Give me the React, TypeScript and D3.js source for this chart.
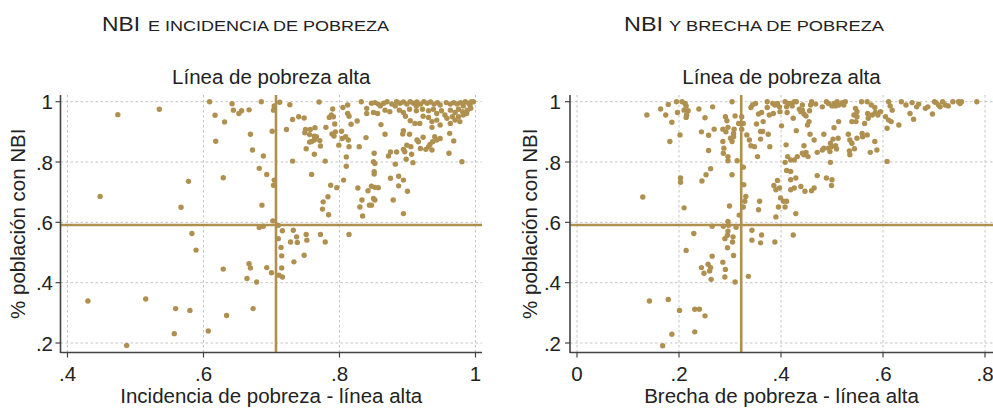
import React from "react";
import * as d3 from "d3";

// ---------- DATA ----------
// Panel A: x = incidencia de pobreza (línea alta), y = % población con NBI
const incidenciaPoints: [number, number][] = [
  [0.474,0.957],[0.535,0.975],[0.448,0.686],[0.578,0.736],[0.567,0.65],[0.583,0.563],[0.589,0.508],
  [0.43,0.339],[0.515,0.346],[0.559,0.314],[0.58,0.308],[0.557,0.231],[0.487,0.192],[0.607,0.24],
  [0.609,1.0],[0.642,0.993],[0.644,0.972],[0.652,0.961],[0.656,0.97],[0.667,0.973],[0.685,1.0],
  [0.703,0.972],[0.704,0.986],[0.617,0.955],[0.631,0.933],[0.618,0.869],[0.669,0.892],[0.672,0.84],
  [0.701,0.902],[0.688,0.82],[0.682,0.779],[0.693,0.759],[0.704,0.74],[0.703,0.723],[0.629,0.748],
  [0.686,0.657],[0.702,0.605],[0.682,0.583],[0.688,0.587],[0.71,0.546],[0.629,0.445],[0.667,0.463],
  [0.669,0.449],[0.693,0.45],[0.7,0.433],[0.664,0.414],[0.678,0.402],[0.673,0.314],[0.634,0.291],
  [0.711,0.425],
  [0.71,0.59],[0.716,0.572],[0.714,0.517],[0.715,0.489],[0.715,0.449],[0.716,0.419],[0.732,0.574],
  [0.737,0.552],[0.728,0.535],[0.738,0.533],[0.751,0.56],[0.752,0.541],[0.772,0.56],[0.779,0.535],
  [0.748,0.491],[0.733,0.469],[0.814,0.56],
  [0.712,0.998],[0.727,0.99],[0.77,0.999],[0.79,0.976],[0.788,0.956],[0.785,0.948],[0.793,0.926],
  [0.805,0.981],[0.812,0.989],[0.812,0.961],[0.814,0.952],[0.817,0.925],[0.826,0.936],[0.832,1.0],
  [0.84,0.978],[0.84,0.961],[0.731,0.941],[0.74,0.95],[0.748,0.946],[0.722,0.908],[0.75,0.908],
  [0.749,0.897],[0.757,0.908],[0.764,0.914],[0.756,0.891],[0.763,0.886],[0.766,0.884],[0.759,0.868],
  [0.756,0.866],[0.763,0.873],[0.771,0.871],[0.772,0.853],[0.751,0.844],[0.763,0.826],[0.78,0.915],
  [0.789,0.893],[0.794,0.9],[0.792,0.886],[0.803,0.902],[0.804,0.878],[0.809,0.884],[0.813,0.873],
  [0.814,0.851],[0.799,0.856],[0.829,0.851],[0.839,0.881],[0.731,0.803],[0.779,0.803],[0.81,0.817],
  [0.81,0.786],[0.759,0.759],[0.806,0.74],[0.787,0.723],[0.796,0.715],[0.783,0.685],[0.776,0.668],
  [0.775,0.644],[0.784,0.625],[0.827,0.714],[0.842,0.705],[0.833,0.674],[0.83,0.651],[0.844,0.657],
  [0.834,0.621],[0.791,0.95],
  [0.847,0.995],[0.852,0.997],[0.857,0.992],[0.865,0.995],[0.87,1.0],[0.877,0.992],[0.884,1.0],
  [0.889,0.995],[0.894,0.999],[0.899,0.992],[0.904,1.0],[0.909,0.995],[0.914,0.999],[0.919,0.992],
  [0.924,1.0],[0.929,0.995],[0.934,0.999],[0.939,0.992],[0.944,0.997],[0.957,0.997],[0.963,0.992],
  [0.968,0.997],[0.973,0.992],[0.978,0.997],[0.985,1.0],[0.99,0.995],[0.994,1.0],[0.997,1.0],
  [0.86,0.986],[0.882,0.986],[0.913,0.986],[0.948,0.989],[0.982,0.986],[0.992,0.989],
  [0.85,0.964],[0.856,0.961],[0.867,0.972],[0.874,0.967],[0.888,0.972],[0.894,0.964],[0.903,0.975],
  [0.913,0.97],[0.922,0.975],[0.931,0.97],[0.938,0.975],[0.943,0.961],[0.95,0.97],[0.955,0.956],
  [0.963,0.972],[0.97,0.964],[0.975,0.975],[0.981,0.967],[0.988,0.972],[0.993,0.978],
  [0.897,0.952],[0.904,0.937],[0.911,0.928],[0.918,0.928],[0.923,0.952],[0.931,0.948],[0.936,0.934],
  [0.943,0.939],[0.948,0.923],[0.958,0.945],[0.963,0.928],[0.97,0.939],[0.975,0.95],[0.982,0.956],
  [0.987,0.961],[0.977,0.934],[0.966,0.95],
  [0.861,0.924],[0.867,0.892],[0.894,0.904],[0.893,0.893],[0.903,0.892],[0.914,0.873],[0.923,0.882],
  [0.916,0.867],[0.936,0.915],[0.94,0.884],[0.948,0.878],[0.937,0.867],[0.943,0.873],[0.933,0.858],
  [0.931,0.851],[0.927,0.842],[0.936,0.84],[0.919,0.845],[0.962,0.895],[0.968,0.87],[0.961,0.829],
  [0.905,0.851],[0.899,0.856],[0.894,0.842],[0.896,0.834],[0.884,0.833],[0.875,0.833],[0.872,0.82],
  [0.906,0.826],[0.898,0.809],[0.908,0.798],[0.882,0.793],[0.98,0.801],[0.851,0.829],[0.85,0.801],
  [0.852,0.795],[0.851,0.768],[0.851,0.76],[0.847,0.72],[0.852,0.716],[0.857,0.715],[0.85,0.679],
  [0.852,0.674],[0.847,0.657],[0.875,0.746],[0.887,0.753],[0.894,0.74],[0.887,0.721],[0.9,0.703],
  [0.879,0.674],[0.894,0.629],
];

// Panel B: x = brecha de pobreza (línea alta), y = % población con NBI
const brechaPoints: [number, number][] = [
  [0.137,0.956],[0.164,0.976],[0.179,0.991],[0.174,0.956],[0.195,1.0],[0.206,1.0],[0.212,0.994],
  [0.214,0.986],[0.21,0.972],[0.218,0.97],[0.215,0.956],[0.214,0.948],[0.197,0.964],[0.186,0.932],
  [0.202,0.89],[0.182,0.868],[0.239,0.976],[0.266,0.983],[0.304,1.0],[0.251,0.947],[0.244,0.9],
  [0.258,0.889],[0.269,0.909],[0.258,0.838],[0.286,0.909],[0.291,0.95],[0.294,0.937],[0.296,0.915],
  [0.292,0.9],[0.286,0.868],[0.288,0.846],[0.287,0.829],[0.296,0.818],[0.296,0.804],[0.301,0.879],
  [0.304,0.868],[0.307,0.895],[0.308,0.909],[0.307,0.884],[0.31,0.953],[0.317,0.928],[0.262,0.778],
  [0.253,0.758],[0.245,0.737],[0.203,0.747],[0.203,0.733],[0.304,0.758],[0.314,0.804],[0.129,0.684],
  [0.21,0.648],[0.299,0.654],[0.318,0.624],[0.296,0.603],[0.265,0.587],[0.287,0.587],[0.312,0.584],
  [0.229,0.563],[0.296,0.571],[0.295,0.557],[0.306,0.552],[0.29,0.546],[0.305,0.535],[0.295,0.516],
  [0.214,0.507],[0.265,0.488],[0.307,0.49],[0.286,0.468],[0.257,0.461],[0.244,0.45],[0.262,0.45],
  [0.249,0.431],[0.26,0.439],[0.291,0.444],[0.29,0.419],[0.263,0.411],[0.31,0.402],[0.142,0.339],
  [0.179,0.344],[0.201,0.308],[0.231,0.312],[0.24,0.312],[0.251,0.29],[0.231,0.237],[0.186,0.229],
  [0.168,0.191],[0.297,0.59],
  [0.323,0.95],[0.326,0.928],[0.333,0.89],[0.338,0.873],[0.341,0.854],[0.348,0.851],[0.341,0.981],
  [0.344,0.989],[0.35,0.994],[0.356,0.959],[0.362,0.964],[0.365,0.934],[0.352,0.926],[0.36,0.901],
  [0.364,0.901],[0.36,0.876],[0.375,0.892],[0.378,0.851],[0.354,0.818],[0.373,1.0],[0.373,0.981],
  [0.384,0.994],[0.388,0.989],[0.393,0.994],[0.377,0.956],[0.385,0.961],[0.397,0.983],[0.398,0.967],
  [0.408,1.0],[0.414,0.994],[0.411,0.983],[0.412,0.964],[0.401,0.92],[0.41,0.857],[0.413,0.818],
  [0.408,0.799],[0.326,0.783],[0.327,0.725],[0.331,0.686],[0.329,0.67],[0.326,0.651],[0.358,0.67],
  [0.356,0.642],[0.386,0.722],[0.393,0.739],[0.397,0.714],[0.39,0.708],[0.399,0.681],[0.405,0.67],
  [0.411,0.67],[0.395,0.651],[0.408,0.651],[0.39,0.618],[0.411,0.772],[0.343,0.574],[0.343,0.541],
  [0.362,0.558],[0.36,0.532],[0.388,0.535],[0.424,0.558],[0.336,0.421],[0.323,0.909],
  [0.419,0.994],[0.426,1.0],[0.43,1.0],[0.422,0.986],[0.442,0.989],[0.46,1.0],[0.458,0.989],
  [0.468,0.992],[0.481,0.983],[0.489,1.0],[0.493,0.994],[0.504,0.994],[0.51,1.0],[0.513,0.989],
  [0.52,0.997],[0.526,1.0],[0.523,0.989],[0.507,0.986],[0.5,0.986],[0.558,1.0],[0.569,1.0],
  [0.577,0.989],[0.584,0.981],[0.546,0.978],[0.549,0.967],[0.543,0.956],[0.442,0.972],[0.439,0.967],
  [0.445,0.959],[0.449,0.953],[0.456,0.97],[0.436,0.975],[0.424,0.945],[0.455,0.934],[0.452,0.923],
  [0.43,0.904],[0.457,0.892],[0.465,0.873],[0.445,0.854],[0.449,0.832],[0.445,0.824],[0.453,0.818],
  [0.442,0.829],[0.471,0.832],[0.432,0.818],[0.419,0.807],[0.426,0.807],[0.484,0.892],[0.484,0.846],
  [0.481,0.84],[0.493,0.846],[0.496,0.835],[0.497,0.862],[0.502,0.876],[0.512,0.879],[0.507,0.854],
  [0.509,0.843],[0.499,0.851],[0.504,0.914],[0.513,0.934],[0.497,0.799],[0.532,0.892],[0.535,0.873],
  [0.539,0.862],[0.534,0.837],[0.535,0.824],[0.544,0.844],[0.549,0.879],[0.559,0.895],[0.56,0.884],
  [0.569,0.89],[0.584,0.868],[0.575,0.832],[0.588,0.84],[0.539,0.934],[0.547,0.934],[0.549,0.95],
  [0.564,0.928],[0.57,0.961],[0.571,0.945],[0.579,0.956],[0.585,0.964],[0.59,0.956],[0.595,0.967],
  [0.611,1.0],[0.614,0.986],[0.618,0.972],[0.605,0.95],[0.611,0.939],[0.616,0.934],[0.608,0.912],
  [0.631,0.923],[0.636,1.0],[0.645,0.989],[0.657,0.997],[0.67,0.992],[0.666,0.983],[0.683,0.978],
  [0.688,0.983],[0.701,1.0],[0.704,0.997],[0.709,0.989],[0.717,1.0],[0.722,0.989],[0.728,0.986],
  [0.737,1.0],[0.748,1.0],[0.751,0.994],[0.754,1.0],[0.784,1.0],[0.712,0.983],[0.697,0.959],
  [0.653,0.961],[0.66,0.942],[0.608,0.802],[0.419,0.769],[0.419,0.741],[0.429,0.747],[0.439,0.719],
  [0.426,0.714],[0.419,0.708],[0.447,0.703],[0.46,0.705],[0.465,0.714],[0.471,0.755],[0.489,0.747],
  [0.5,0.741],[0.499,0.722],[0.429,0.629],
];

const yTicks = [0.2, 0.4, 0.6, 0.8, 1];
const yTickLabels = [".2", ".4", ".6", ".8", "1"];
const xTicksA = [0.4, 0.6, 0.8, 1];
const xTickLabelsA = [".4", ".6", ".8", "1"];
const xTicksB = [0, 0.2, 0.4, 0.6, 0.8];
const xTickLabelsB = ["0", ".2", ".4", ".6", ".8"];

const nbiLine = 0.591;
const incidenciaLine = 0.7066;
const brechaLine = 0.322;

const panelTitles = ["E INCIDENCIA DE POBREZA", "Y BRECHA DE POBREZA"];
const subtitle = "Línea de pobreza alta";
const xTitles = ["Incidencia de pobreza - línea alta", "Brecha de pobreza - línea alta"];
const yTitle = "% población con NBI";

// ---------- STYLE ----------
const GOLD = "#b0904f";
const GRID = "#c4c4c4";
const AXIS = "#444";
const TEXT = "#222";
const FONT = "'Liberation Sans', Arial, sans-serif";

type PanelProps = {
  points: [number, number][];
  xTicks: number[];
  xLabels: string[];
  xDomain: [number, number];
  xRange: [number, number];
  left: number;
  right: number;
  vLine: number;
  title: string;
  titleNbiX: number;
  titleNbiW: number;
  titleRestX: number;
  titleRestW: number;
  xTitle: string;
  yTitleX: number;
  labelRight: number;
};

const TOP = 95;
const BOTTOM = 352.5;

function Panel(p: PanelProps) {
  const x = d3.scaleLinear().domain(p.xDomain).range(p.xRange);
  const y = d3.scaleLinear().domain([0.2, 1]).range([343, 101.7]);
  const cx = (p.left + p.right) / 2;
  const cy = (TOP + BOTTOM) / 2;
  return (
    <g fontFamily={FONT} fill={TEXT}>
      {/* titles */}
      <text x={p.titleNbiX} y={31} fontSize={21} textLength={p.titleNbiW} lengthAdjust="spacingAndGlyphs">NBI</text>
      <text x={p.titleRestX} y={31} fontSize={15.5} textLength={p.titleRestW} lengthAdjust="spacingAndGlyphs">{p.title}</text>
      <text x={cx} y={84} fontSize={20.5} textAnchor="middle">{subtitle}</text>

      {/* grid */}
      {yTicks.map((t) => (
        <line key={"gy" + t} x1={p.left} x2={p.right} y1={y(t)} y2={y(t)} stroke={GRID} strokeWidth={1} strokeDasharray="2.5 2.5" />
      ))}
      {p.xTicks.map((t) => (
        <line key={"gx" + t} x1={x(t)} x2={x(t)} y1={TOP} y2={BOTTOM} stroke={GRID} strokeWidth={1} strokeDasharray="2.5 2.5" />
      ))}

      {/* reference lines */}
      <line x1={p.left} x2={p.right} y1={y(nbiLine)} y2={y(nbiLine)} stroke={GOLD} strokeWidth={2.6} />
      <line x1={x(p.vLine)} x2={x(p.vLine)} y1={TOP} y2={BOTTOM} stroke={GOLD} strokeWidth={2.6} />

      {/* points */}
      {p.points.map((d, i) => (
        <circle key={i} cx={x(d[0])} cy={y(d[1])} r={2.7} fill={GOLD} />
      ))}

      {/* axes */}
      <line x1={p.left} x2={p.left} y1={TOP} y2={BOTTOM + 0.5} stroke={AXIS} strokeWidth={1.6} />
      <line x1={p.left} x2={p.right} y1={BOTTOM} y2={BOTTOM} stroke={AXIS} strokeWidth={1.6} />
      {yTicks.map((t, i) => (
        <g key={"yt" + t}>
          <line x1={p.left - 5} x2={p.left} y1={y(t)} y2={y(t)} stroke={AXIS} strokeWidth={1.2} />
          <text x={p.labelRight} y={y(t) + 7.5} fontSize={20.5} textAnchor="end">{yTickLabels[i]}</text>
        </g>
      ))}
      {p.xTicks.map((t, i) => (
        <g key={"xt" + t}>
          <line x1={x(t)} x2={x(t)} y1={BOTTOM} y2={BOTTOM + 5} stroke={AXIS} strokeWidth={1.2} />
          <text x={x(t)} y={381} fontSize={20.5} textAnchor="middle">{p.xLabels[i]}</text>
        </g>
      ))}
      <text x={cx} y={403} fontSize={20.5} textAnchor="middle">{p.xTitle}</text>
      <text transform={`translate(${p.yTitleX},${cy}) rotate(-90)`} fontSize={20.5} textAnchor="middle">{yTitle}</text>
    </g>
  );
}

export default function App() {
  return (
    <svg width={993} height={408} viewBox="0 0 993 408"
      style={{ position: "fixed", left: 0, top: 0, background: "#fff", display: "block" }}>
      <rect width={993} height={408} fill="#fff" />
      <Panel
        points={incidenciaPoints}
        xTicks={xTicksA}
        xLabels={xTickLabelsA}
        xDomain={[0.4, 1]}
        xRange={[67.5, 475.5]}
        left={60.5}
        right={482}
        vLine={incidenciaLine}
        title={panelTitles[0]}
        titleNbiX={102}
        titleNbiW={38}
        titleRestX={148}
        titleRestW={241}
        xTitle={xTitles[0]}
        yTitleX={25}
        labelRight={53}
      />
      <Panel
        points={brechaPoints}
        xTicks={xTicksB}
        xLabels={xTickLabelsB}
        xDomain={[0, 0.8]}
        xRange={[577, 985]}
        left={570}
        right={993}
        vLine={brechaLine}
        title={panelTitles[1]}
        titleNbiX={624}
        titleNbiW={39}
        titleRestX={669}
        titleRestW={215}
        xTitle={xTitles[1]}
        yTitleX={537}
        labelRight={561}
      />
    </svg>
  );
}
